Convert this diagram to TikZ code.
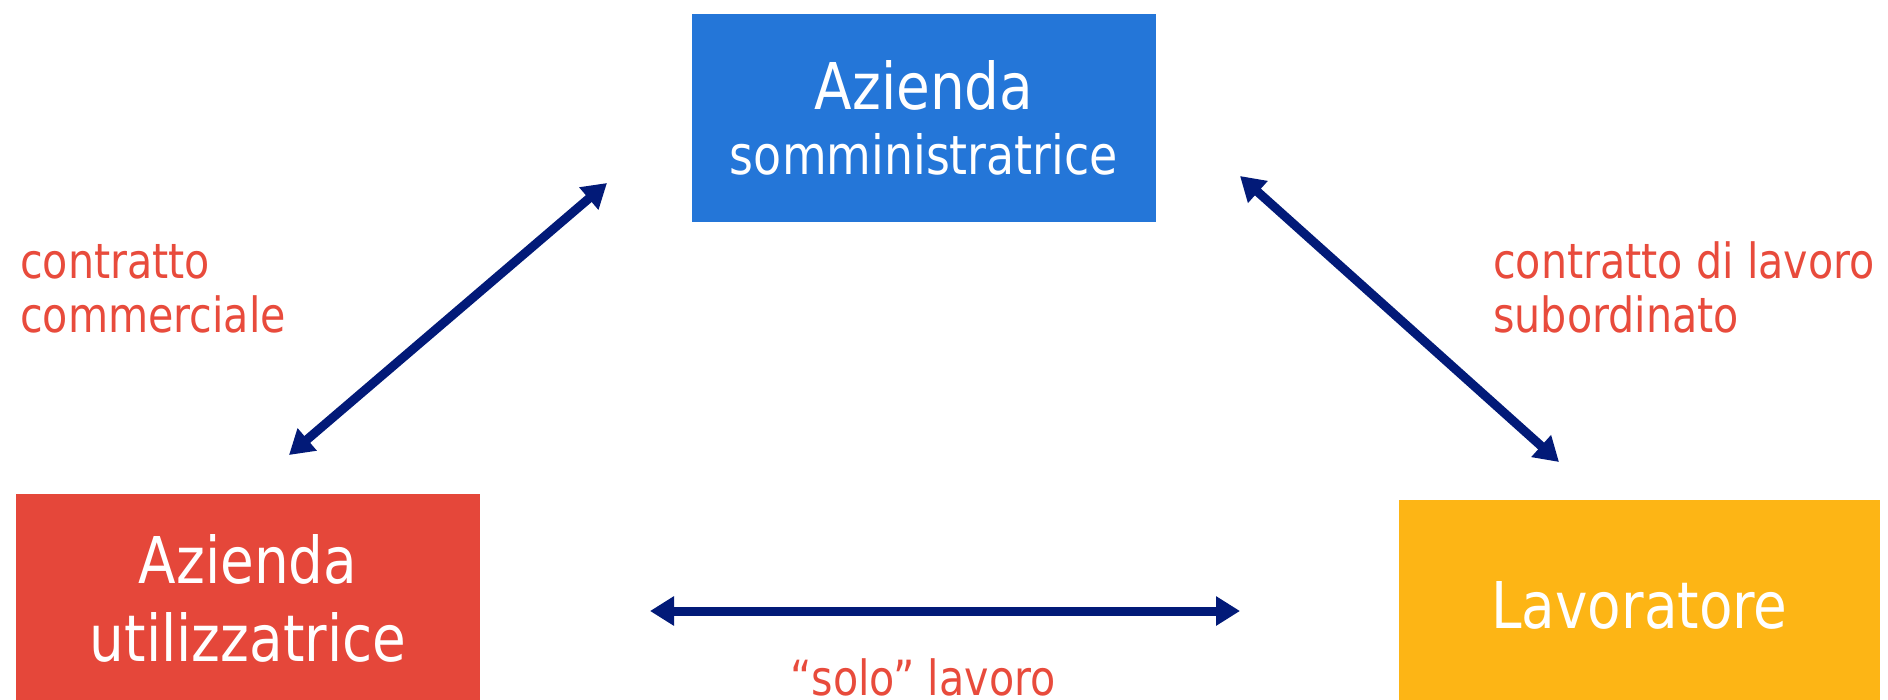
\documentclass[tikz,border=0pt]{standalone}
\usepackage{fontspec}
\newfontfamily\tah{DejaVu Sans}[FakeStretch=0.85]
\usetikzlibrary{arrows.meta}
\definecolor{bboxc}{HTML}{2476D8}
\definecolor{rboxc}{HTML}{E5473A}
\definecolor{yboxc}{HTML}{FDB515}
\definecolor{navyc}{HTML}{021A78}
\definecolor{labc}{HTML}{E84B3C}
\tikzset{
  boxnode/.style={rectangle, draw=none, text=white, align=center, inner sep=0pt},
  lab/.style={text=labc, align=left, inner sep=0pt, font=\tah\fontsize{48.5}{54}\selectfont},
  dbl/.style={draw=navyc, line width=9pt, {Triangle[length=24pt,width=28pt]}-{Triangle[length=24pt,width=28pt]}}
}
\begin{document}
\begin{tikzpicture}[x=1pt,y=-1pt]
\useasboundingbox (0,0) rectangle (1888,699);
\node[boxnode, fill=bboxc, minimum width=464pt, minimum height=208pt, font=\tah\fontsize{54}{65}\selectfont] (som) at (924,118)
  {{\fontsize{64.5}{65}\selectfont Azienda}\\somministratrice};
\node[boxnode, fill=rboxc, minimum width=464pt, minimum height=209pt, font=\tah\fontsize{64.5}{78}\selectfont] (uti) at (248,598.5)
  {Azienda\\utilizzatrice};
\node[boxnode, fill=yboxc, minimum width=481pt, minimum height=210pt, font=\tah\fontsize{64.5}{78}\selectfont] (lav) at (1639.5,605)
  {Lavoratore};
\node[lab, anchor=base west] (l1) at (20,332) {contratto\\commerciale};
\node[lab, anchor=base west] (l2) at (1493,332) {contratto di lavoro\\subordinato};
\node[lab, anchor=base west] (l3) at (790,695) {“solo” lavoro};
\coordinate (a1s) at (289,455);
\coordinate (a1e) at (607,183);
\coordinate (a2s) at (1240,176);
\coordinate (a2e) at (1559,462);
\coordinate (a3s) at (650,611);
\coordinate (a3e) at (1240,611);
\draw[dbl] (a1s) -- (a1e);
\draw[dbl] (a2s) -- (a2e);
\draw[dbl] (a3s) -- (a3e);
\end{tikzpicture}
\end{document}
